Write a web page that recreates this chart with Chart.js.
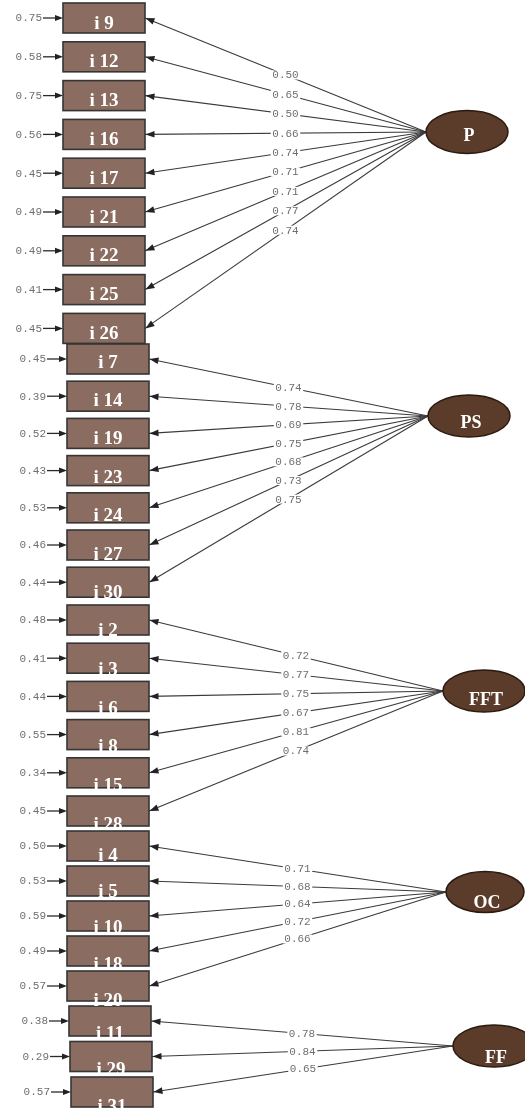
<!DOCTYPE html>
<html>
<head>
<meta charset="utf-8">
<style>
  html, body { margin: 0; padding: 0; background: #ffffff; }
  #wrap { width: 525px; height: 1111px; }
</style>
<script src="https://cdn.jsdelivr.net/npm/chart.js@4/dist/chart.umd.min.js"></script>
</head>
<body>
<div id="wrap"><canvas id="c" width="525" height="1111"></canvas></div>
<script>
// Latent factors of the measurement model
const factorNames = ['P', 'PS', 'FFT', 'OC', 'FF'];

// Observed indicators loading on each factor
const itemsP   = ['i 9', 'i 12', 'i 13', 'i 16', 'i 17', 'i 21', 'i 22', 'i 25', 'i 26'];
const itemsPS  = ['i 7', 'i 14', 'i 19', 'i 23', 'i 24', 'i 27', 'i 30'];
const itemsFFT = ['i 2', 'i 3', 'i 6', 'i 8', 'i 15', 'i 28'];
const itemsOC  = ['i 4', 'i 5', 'i 10', 'i 18', 'i 20'];
const itemsFF  = ['i 11', 'i 29', 'i 31'];

// Standardized factor loadings
const loadP   = [0.50, 0.65, 0.50, 0.66, 0.74, 0.71, 0.71, 0.77, 0.74];
const loadPS  = [0.74, 0.78, 0.69, 0.75, 0.68, 0.73, 0.75];
const loadFFT = [0.72, 0.77, 0.75, 0.67, 0.81, 0.74];
const loadOC  = [0.71, 0.68, 0.64, 0.72, 0.66];
const loadFF  = [0.78, 0.84, 0.65];

// Error variances of the indicators
const errP   = [0.75, 0.58, 0.75, 0.56, 0.45, 0.49, 0.49, 0.41, 0.45];
const errPS  = [0.45, 0.39, 0.52, 0.43, 0.53, 0.46, 0.44];
const errFFT = [0.48, 0.41, 0.44, 0.55, 0.34, 0.45];
const errOC  = [0.50, 0.53, 0.59, 0.49, 0.57];
const errFF  = [0.38, 0.29, 0.57];

const itemLists  = [itemsP, itemsPS, itemsFFT, itemsOC, itemsFF];
const loadLists  = [loadP, loadPS, loadFFT, loadOC, loadFF];
const errLists   = [errP, errPS, errFFT, errOC, errFF];

// Diagram geometry, in the units of the hidden x (0..525) and y (0..1111) scales
const geometry = [
  { cx: 467, cy: 132,  rx: 41, ry: 21.5, boxX: 63, shift: 0, row0: 18,   step: 38.8, drop0: 10.5, dropStep: 0,   nameDrop: 9 },
  { cx: 469, cy: 416,  rx: 41, ry: 21,   boxX: 67, shift: 0, row0: 359,  step: 37.2, drop0: 8.5,  dropStep: 1.2, nameDrop: 12 },
  { cx: 484, cy: 691,  rx: 41, ry: 21,   boxX: 67, shift: 0, row0: 620,  step: 38.2, drop0: 16,   dropStep: 0.6, nameDrop: 14 },
  { cx: 485, cy: 892,  rx: 39, ry: 20.5, boxX: 67, shift: 0, row0: 846,  step: 35,   drop0: 15,   dropStep: 1.2, nameDrop: 16 },
  { cx: 494, cy: 1046, rx: 41, ry: 21,   boxX: 69, shift: 1, row0: 1021, step: 35.5, drop0: 17.5, dropStep: 1,   nameDrop: 17 }
];
const BOX_W = 82, BOX_H = 30;

const LINE_COLOR = '#3a3a3a';
const NUM_COLOR = '#6f6f6f';
const BOX_FILL = '#8a6c60';
const BOX_EDGE = '#353535';
const NODE_FILL = '#5b3b2a';
const NODE_EDGE = '#2a1a10';

// Build the node/indicator records
const paths = [];
factorNames.forEach((name, f) => {
  const g = geometry[f];
  itemLists[f].forEach((item, j) => {
    const left = g.boxX + g.shift * j;
    paths.push({
      factor: f,
      item,
      loading: loadLists[f][j],
      error: errLists[f][j],
      boxLeft: left,
      boxRight: left + BOX_W,
      rowY: g.row0 + g.step * j,
      drop: g.drop0 + g.dropStep * j,
      tipX: g.cx - g.rx,
      tipY: g.cy
    });
  });
});

// One two-point line per loading path, from factor to indicator
const datasets = paths.map(p => ({
  data: [{ x: p.tipX, y: p.tipY }, { x: p.boxRight, y: p.rowY }],
  showLine: true,
  borderColor: LINE_COLOR,
  borderWidth: 1.1,
  pointRadius: 0,
  pointHoverRadius: 0,
  fill: false
}));

function arrowHead(ctx, fromX, fromY, tipX, tipY, len, half) {
  const a = Math.atan2(tipY - fromY, tipX - fromX);
  ctx.beginPath();
  ctx.moveTo(tipX, tipY);
  ctx.lineTo(tipX - len * Math.cos(a) + half * Math.sin(a), tipY - len * Math.sin(a) - half * Math.cos(a));
  ctx.lineTo(tipX - len * Math.cos(a) - half * Math.sin(a), tipY - len * Math.sin(a) + half * Math.cos(a));
  ctx.closePath();
  ctx.fill();
}

const diagramPlugin = {
  id: 'pathDiagram',
  afterDatasetsDraw(chart) {
    const ctx = chart.ctx;
    const xs = chart.scales.x, ys = chart.scales.y;
    const X = v => xs.getPixelForValue(v);
    const Y = v => ys.getPixelForValue(v);
    ctx.save();

    // loading labels at the middle of each path
    ctx.font = '11px "Liberation Mono", "DejaVu Sans Mono", monospace';
    ctx.textAlign = 'center';
    ctx.textBaseline = 'middle';
    paths.forEach(p => {
      const mx = (X(p.tipX) + X(p.boxRight)) / 2;
      const my = (Y(p.tipY) + Y(p.rowY)) / 2;
      const txt = p.loading.toFixed(2);
      const w = ctx.measureText(txt).width;
      ctx.fillStyle = '#ffffff';
      ctx.fillRect(mx - w / 2 - 1.5, my - 4.5, w + 3, 9);
      ctx.fillStyle = NUM_COLOR;
      ctx.fillText(txt, mx, my + 0.5);
    });

    // indicator boxes
    paths.forEach(p => {
      const x0 = X(p.boxLeft), x1 = X(p.boxRight);
      const yc = Y(p.rowY);
      const top = yc - BOX_H / 2;
      ctx.fillStyle = BOX_FILL;
      ctx.fillRect(x0, top, x1 - x0, BOX_H);
      ctx.strokeStyle = BOX_EDGE;
      ctx.lineWidth = 1.6;
      ctx.strokeRect(x0, top, x1 - x0, BOX_H);

      // arrowhead of the loading path
      ctx.fillStyle = '#222222';
      arrowHead(ctx, X(p.tipX), Y(p.tipY), x1 + 0.5, yc, 9, 3.3);

      // error term: value and short arrow into the box
      ctx.strokeStyle = '#2a2a2a';
      ctx.lineWidth = 1.3;
      ctx.beginPath();
      ctx.moveTo(x0 - 20, yc);
      ctx.lineTo(x0 - 6, yc);
      ctx.stroke();
      arrowHead(ctx, x0 - 20, yc, x0, yc, 8, 3);
      ctx.font = '11px "Liberation Mono", "DejaVu Sans Mono", monospace';
      ctx.textAlign = 'right';
      ctx.textBaseline = 'middle';
      ctx.fillStyle = NUM_COLOR;
      ctx.fillText(p.error.toFixed(2), x0 - 21, yc + 0.5);
    });

    // indicator names (white, drawn last so they sit over the box edges)
    ctx.font = 'bold 19px "Liberation Serif", "DejaVu Serif", serif';
    ctx.textAlign = 'center';
    ctx.textBaseline = 'alphabetic';
    ctx.fillStyle = '#ffffff';
    paths.forEach(p => {
      const xc = (X(p.boxLeft) + X(p.boxRight)) / 2;
      ctx.fillText(p.item, xc, Y(p.rowY) + p.drop);
    });

    // latent factor ellipses
    factorNames.forEach((name, f) => {
      const g = geometry[f];
      const cx = X(g.cx), cy = Y(g.cy);
      const rx = X(g.cx + g.rx) - cx, ry = Math.abs(Y(g.cy + g.ry) - cy);
      ctx.beginPath();
      ctx.ellipse(cx, cy, rx, ry, 0, 0, Math.PI * 2);
      ctx.fillStyle = NODE_FILL;
      ctx.fill();
      ctx.strokeStyle = NODE_EDGE;
      ctx.lineWidth = 1.5;
      ctx.stroke();
      ctx.font = 'bold 18px "Liberation Serif", "DejaVu Serif", serif';
      ctx.textAlign = 'center';
      ctx.textBaseline = 'alphabetic';
      ctx.fillStyle = '#ffffff';
      ctx.fillText(name, cx + 2, cy + g.nameDrop);
    });

    ctx.restore();
  }
};

new Chart(document.getElementById('c'), {
  type: 'scatter',
  data: { datasets },
  options: {
    responsive: false,
    devicePixelRatio: 1,
    animation: false,
    layout: { padding: 0 },
    plugins: { legend: { display: false }, tooltip: { enabled: false } },
    events: [],
    scales: {
      x: { type: 'linear', min: 0, max: 525, display: false },
      y: { type: 'linear', min: 0, max: 1111, reverse: true, display: false }
    }
  },
  plugins: [diagramPlugin]
});
</script>
</body>
</html>
